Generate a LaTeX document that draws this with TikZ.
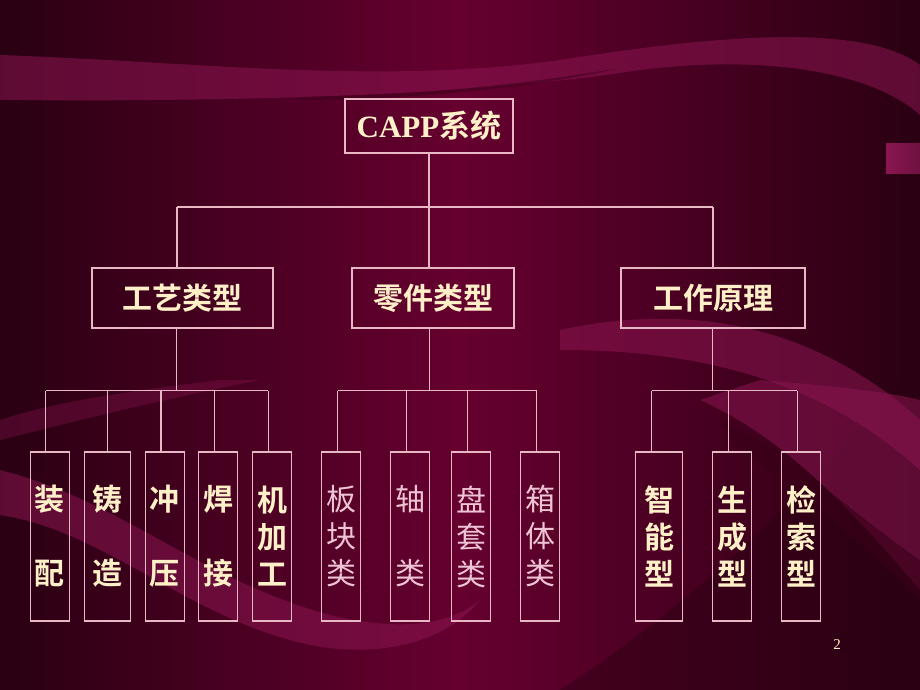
\documentclass[tikz,border=0pt]{standalone}
\usepackage{fontspec}
\setmainfont{Liberation Serif}
\newfontfamily\cjkb{Noto Sans CJK SC Bold}
\newfontfamily\cjkr{Noto Sans CJK SC}
\newfontfamily\latb{Liberation Serif Bold}
\definecolor{bgmid}{HTML}{66002F}
\definecolor{bgdark}{HTML}{2A0012}
\definecolor{ribbon}{HTML}{8A1550}
\definecolor{shadowc}{HTML}{3A0018}
\definecolor{linec}{HTML}{E8B8C4}
\definecolor{creamc}{HTML}{FFF0C8}
\definecolor{pinkc}{HTML}{EEC4D4}
\tikzset{
  boxst/.style={draw=linec, line width=1.2pt, inner sep=0pt},
  lvla/.style={boxst, text=creamc, font=\cjkb\fontsize{30}{32}\selectfont},
  leafb/.style={boxst, text=creamc, align=center, font=\cjkb\fontsize{30}{37}\selectfont},
  leafr/.style={boxst, text=pinkc, align=center, font=\cjkr\fontsize{30}{37}\selectfont},
  conn/.style={draw=linec, line width=1.2pt},
  rib/.style={fill=ribbon, fill opacity=0.55, draw=none}
}
\begin{document}
\begin{tikzpicture}[x=1pt,y=-1pt]
\useasboundingbox (0,0) rectangle (920,690);
% background
\shade[left color=bgdark, right color=bgdark, middle color=bgmid] (0,0) rectangle (920,690);
\fill[bgdark, opacity=0.45] (560,690) .. controls (760,560) and (860,420) .. (920,360) -- (920,690) -- cycle;
% top ribbon
\fill[rib] (0,55) .. controls (200,62) and (380,85) .. (560,60) .. controls (700,38) and (860,20) .. (920,65)
  -- (920,115) .. controls (870,70) and (760,55) .. (640,70) .. controls (480,95) and (250,102) .. (0,100) -- cycle;
\fill[shadowc, opacity=0.5] (300,97) .. controls (420,95) and (520,85) .. (620,68) .. controls (560,82) and (440,100) .. (300,100) -- cycle;
% right small ribbon
\shade[left color=ribbon, right color=ribbon!80!black] (886,143) rectangle (920,173);
% lower left ribbon
\fill[rib] (0,470) .. controls (120,500) and (200,580) .. (330,615) .. controls (400,632) and (450,625) .. (480,600)
  .. controls (440,650) and (360,660) .. (290,640) .. controls (180,610) and (100,530) .. (0,515) -- cycle;
\fill[rib, fill opacity=0.35] (0,420) .. controls (60,400) and (140,390) .. (220,380) -- (260,380) .. controls (160,400) and (80,420) .. (0,440) -- cycle;
% right ribbons
\fill[rib] (560,330) .. controls (700,300) and (820,330) .. (920,420) -- (920,470) .. controls (820,380) and (700,350) .. (560,350) -- cycle;
\fill[rib] (760,380) .. controls (820,385) and (880,390) .. (920,400) -- (920,590) .. controls (860,520) and (790,440) .. (700,400) -- cycle;
\fill[shadowc, opacity=0.6] (720,420) .. controls (800,460) and (860,520) .. (920,560) -- (920,600) .. controls (860,540) and (790,480) .. (740,450) -- cycle;

% level 1
\node[boxst, minimum width=168pt, minimum height=54pt, text=creamc] (capp) at (429,126)
  {\latb\fontsize{31}{33}\selectfont CAPP\cjkb 系统};
% level 2
\node[lvla, minimum width=181pt, minimum height=60pt] (gy) at (182.5,298) {工艺类型};
\node[lvla, minimum width=162pt, minimum height=60pt] (lj) at (433,298) {零件类型};
\node[lvla, minimum width=184pt, minimum height=60pt] (yl) at (713,298) {工作原理};
% level 3
\node[leafb, minimum width=39pt, minimum height=169pt] (zp) at (49.8,536.5) {装\\[37pt]配};
\node[leafb, minimum width=46pt, minimum height=169pt] (zz) at (107.2,536.5) {铸\\[37pt]造};
\node[leafb, minimum width=39pt, minimum height=169pt] (cy) at (164.7,536.5) {冲\\[37pt]压};
\node[leafb, minimum width=39pt, minimum height=169pt] (hj) at (218.3,536.5) {焊\\[37pt]接};
\node[leafb, minimum width=39pt, minimum height=169pt] (jj) at (272.2,536.5) {机\\加\\工};
\node[leafr, minimum width=39pt, minimum height=169pt] (bk) at (341,536.5) {板\\块\\类};
\node[leafr, minimum width=39pt, minimum height=169pt] (zl) at (410,536.5) {轴\\[37pt]类};
\node[leafr, minimum width=39pt, minimum height=169pt] (pt) at (471.3,536.5) {盘\\套\\类};
\node[leafr, minimum width=39pt, minimum height=169pt] (xt) at (540.3,536.5) {箱\\体\\类};
\node[leafb, minimum width=47pt, minimum height=169pt] (zn) at (659.3,536.5) {智\\能\\型};
\node[leafb, minimum width=39pt, minimum height=169pt] (sc) at (732.2,536.5) {生\\成\\型};
\node[leafb, minimum width=39pt, minimum height=169pt] (js) at (801,536.5) {检\\索\\型};
% page number
\node[text=creamc, font=\fontsize{15}{16}\selectfont] (pg) at (837,645) {2};

% connectors level 1 -> 2
\coordinate (b0) at (429,207);
\coordinate (b1) at (177,207);
\coordinate (b3) at (713,207);
\draw[conn] (capp.south) -- (b0);
\draw[conn] (b1) -- (b3);
\draw[conn] (b1) -- (b1 |- gy.north);
\draw[conn] (b0) -- (b0 |- lj.north);
\draw[conn] (b3) -- (yl.north);
% group 1
\coordinate (g1) at (176.7,328);
\coordinate (g1m) at (176.7,390.7);
\coordinate (g1a) at (45.7,390.7);
\coordinate (g1b) at (107.3,390.7);
\coordinate (g1c) at (161,390.7);
\coordinate (g1d) at (214.3,390.7);
\coordinate (g1e) at (268.3,390.7);
\draw[conn] (g1 |- gy.south) -- (g1m);
\draw[conn] (g1a) -- (g1e);
\draw[conn] (g1a) -- (g1a |- zp.north);
\draw[conn] (g1b) -- (g1b |- zz.north);
\draw[conn] (g1c) -- (g1c |- cy.north);
\draw[conn] (g1d) -- (g1d |- hj.north);
\draw[conn] (g1e) -- (g1e |- jj.north);
% group 2
\coordinate (g2m) at (429.3,390.7);
\coordinate (g2a) at (337.7,390.7);
\coordinate (g2b) at (406.3,390.7);
\coordinate (g2c) at (467.3,390.7);
\coordinate (g2d) at (536.7,390.7);
\draw[conn] (g2m |- lj.south) -- (g2m);
\draw[conn] (g2a) -- (g2d);
\draw[conn] (g2a) -- (g2a |- bk.north);
\draw[conn] (g2b) -- (g2b |- zl.north);
\draw[conn] (g2c) -- (g2c |- pt.north);
\draw[conn] (g2d) -- (g2d |- xt.north);
% group 3
\coordinate (g3m) at (712.7,390.7);
\coordinate (g3a) at (651.7,390.7);
\coordinate (g3b) at (728.3,390.7);
\coordinate (g3c) at (797.3,390.7);
\draw[conn] (g3m |- yl.south) -- (g3m);
\draw[conn] (g3a) -- (g3c);
\draw[conn] (g3a) -- (g3a |- zn.north);
\draw[conn] (g3b) -- (g3b |- sc.north);
\draw[conn] (g3c) -- (g3c |- js.north);
\end{tikzpicture}
\end{document}
